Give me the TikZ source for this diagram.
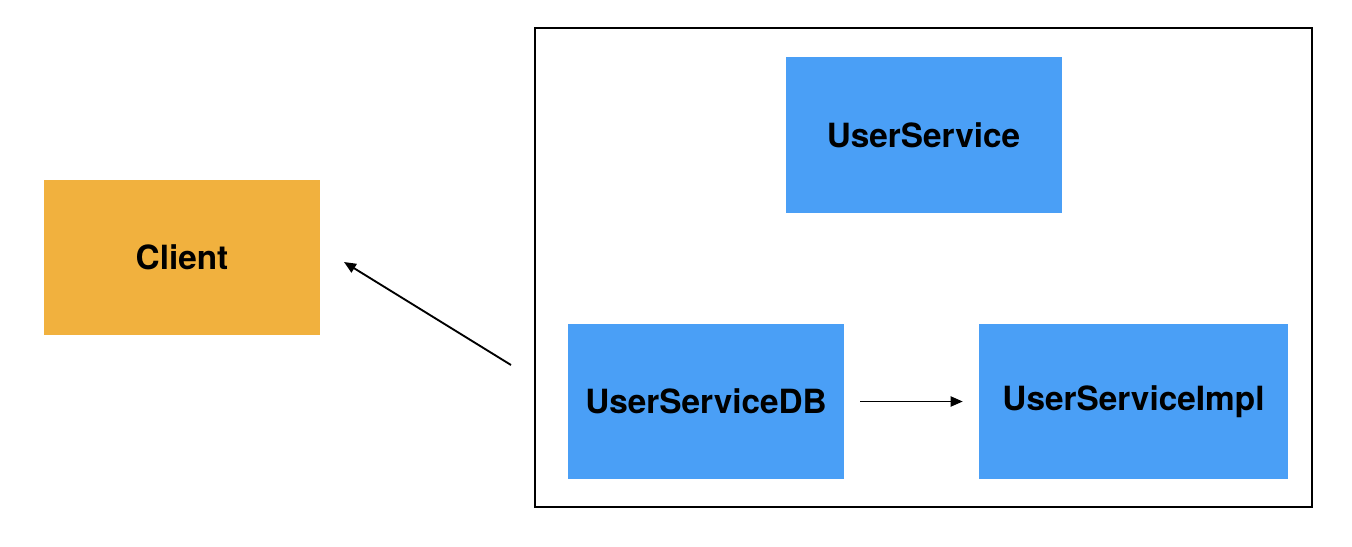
\documentclass[tikz,border=0pt]{standalone}
\usepackage{fontspec}
\setmainfont{TeX Gyre Heros}
\usepackage{tikz}
\usetikzlibrary{arrows.meta,positioning}
\usepackage{xcolor}
\definecolor{clientorange}{RGB}{241,177,62}
\definecolor{serviceblue}{RGB}{74,159,246}
\tikzset{
  block/.style={rectangle, fill=serviceblue, inner sep=0pt,
                minimum width=207pt, minimum height=116.5pt, align=center,
                font=\fontsize{25}{30}\selectfont\bfseries},
  blockorange/.style={block, fill=clientorange},
  frame/.style={rectangle, draw=black, line width=1.5pt, inner sep=0pt},
  arrow/.style={-{Triangle[length=9pt, width=7.5pt]}, line width=1.4pt, black},
}
\begin{document}
\begin{tikzpicture}[x=0.75pt, y=-0.75pt]
\useasboundingbox (0,0) rectangle (1352,546);
\node[frame, minimum width=582.75pt, minimum height=359.25pt] (container) at (923.5,267.5) {};
\node[blockorange] (client) at (182,257.5) {Client};
\node[block] (userservice) at (923.5,135) {UserService};
\node[block] (servicedb) at (706,401.5) {UserServiceDB};
\node[block, minimum width=231.75pt] (serviceimpl) at (1133.5,401.5) {UserServiceImpl};

\coordinate (calltail) at (511,365);
\coordinate (callhead) at (344,262);
\draw[arrow] (calltail) -- (callhead);
\draw[arrow, shorten <=12pt, shorten >=12pt] (servicedb) -- (serviceimpl);
\end{tikzpicture}
\end{document}
